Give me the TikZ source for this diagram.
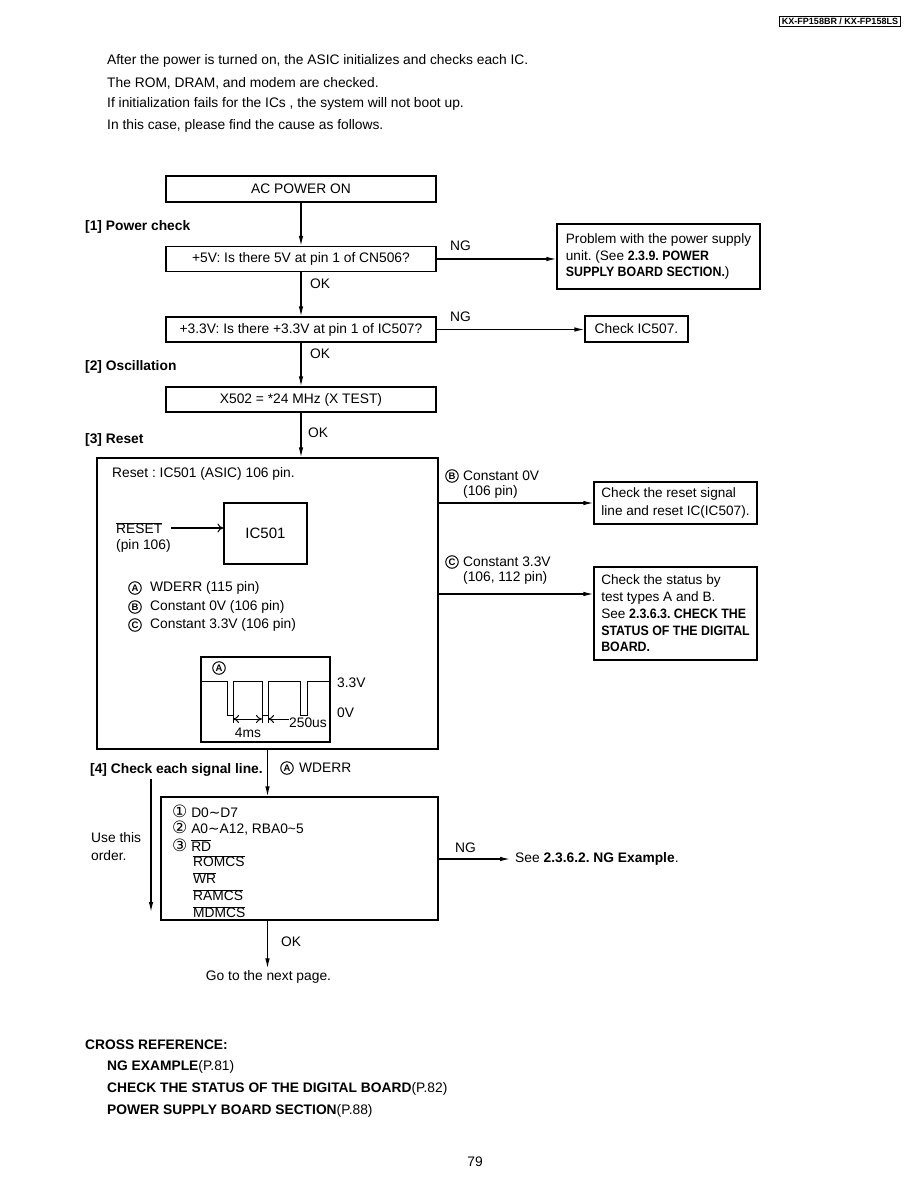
\documentclass[tikz,border=0pt]{standalone}
\usepackage{fontspec}
\setmainfont{Liberation Sans}
\newfontfamily\sym{DejaVu Sans}
\newfontfamily\bcond{Liberation Sans}[FakeStretch=0.91]
\usetikzlibrary{arrows.meta}
\newcommand\ovl[1]{$\overline{\hbox{#1}}$}
\newcommand\bx[1]{{\bcond\bfseries #1}}
\newcommand\cnum[1]{{\sym\fontsize{17}{17}\selectfont #1}}
\frenchspacing
\begin{document}
\begin{tikzpicture}[x=1pt,y=-1pt,
  font=\fontsize{13.8}{16.5}\selectfont,
  box/.style={draw, line width=1.2pt, inner sep=0},
  tbox/.style={draw, line width=1.2pt, align=left, inner xsep=6pt, inner ysep=3pt},
  txt/.style={anchor=west, inner sep=0},
  circ/.style={circle, draw, line width=1pt, inner sep=0, minimum size=12.5pt, font=\bfseries\fontsize{9.5}{10}\selectfont},
  arr/.style={line width=1.2pt, -{Latex[length=10pt,width=4.5pt]}},
  thin/.style={line width=1pt},
  open/.style={-{To[length=6pt,width=9pt,line width=1pt]}},
  bold/.style={font=\bfseries\fontsize{13.8}{16}\selectfont}]
\useasboundingbox (0,0) rectangle (918,1188);

% header
\node[draw, line width=0.9pt, inner xsep=2.5pt, inner ysep=1.5pt, font=\bfseries\fontsize{9}{10}\selectfont] (hdr) at (840,21.5) {KX-FP158BR / KX-FP158LS};

% intro
\node[txt] (i1) at (107,61) {After the power is turned on, the ASIC initializes and checks each IC.};
\node[txt] (i2) at (107,83) {The ROM, DRAM, and modem are checked.};
\node[txt] (i3) at (107,104) {If initialization fails for the ICs , the system will not boot up.};
\node[txt] (i4) at (107,126) {In this case, please find the cause as follows.};

% main column
\node[box, minimum width=270, minimum height=26] (ac) at (301,189) {AC POWER ON};
\node[txt, bold] (l1) at (85,227) {[1] Power check};
\node[box, minimum width=270, minimum height=25] (v5) at (301,259) {+5V: Is there 5V at pin 1 of CN506?};
\node[txt] (ok1) at (310,284) {OK};
\node[box, minimum width=270, minimum height=25] (v33) at (301,329.5) {+3.3V: Is there +3.3V at pin 1 of IC507?};
\node[txt] (ok2) at (310,354) {OK};
\node[txt, bold] (l2) at (85,367) {[2] Oscillation};
\node[box, minimum width=270, minimum height=25] (osc) at (301,399.5) {X502 = *24 MHz (X TEST)};
\node[txt] (ok3) at (308,433) {OK};
\node[txt, bold] (l3) at (85,440) {[3] Reset};

\draw[arr] (ac) -- (v5);
\draw[arr] (v5) -- (v33);
\draw[arr] (v33) -- (osc);

% right branches of power check
\node[tbox, minimum width=203, minimum height=65, font=\fontsize{13.6}{16.5}\selectfont] (psu) at (658.5,256.5) {Problem with the power supply\\unit. (See \bx{2.3.9. POWER}\\\bx{SUPPLY BOARD SECTION.})};
\node[box, minimum width=103, minimum height=26] (c507) at (636.5,329) {Check IC507.};
\node[txt] (ng1) at (450,246) {NG};
\node[txt] (ng2) at (450,317) {NG};
\draw[arr] (v5.east) -- (v5.east -| psu.west);
\draw[arr] (v33.east) -- (v33.east -| c507.west);

% reset box
\node[box, minimum width=341, minimum height=291] (rst) at (267.5,603.5) {};
\draw[arr] (osc.south) -- (osc.south |- rst.north);
\node[txt] (rsth) at (112,474) {Reset : IC501 (ASIC) 106 pin.};
\node[box, minimum width=83, minimum height=61, font=\fontsize{15}{16}\selectfont] (ic) at (265.5,533.5) {IC501};
\node[txt] (rsttxt) at (116,528) {\ovl{RESET}};
\node[txt] (pin) at (116,546) {(pin 106)};
\draw[line width=1.2pt, open] ([xshift=9pt]rsttxt.east) -- (rsttxt.east -| ic.west);
\node[circ] (ca1) at (135,588) {A};
\node[txt] (la) at (150,588) {WDERR (115 pin)};
\node[circ] (cb1) at (135,607) {B};
\node[txt] (lb) at (150,607) {Constant 0V (106 pin)};
\node[circ] (cc1) at (135,625) {C};
\node[txt] (lc) at (150,625) {Constant 3.3V (106 pin)};

% waveform
\node[box, minimum width=129, minimum height=85] (wave) at (265.5,699.5) {};
\node[circ] (wa) at (219,668) {A};
\draw[thin] (201,681) -- (227,681) -- (227,715) -- (233,715) -- (233,681) -- (262,681) -- (262,715) -- (268,715) -- (268,681) -- (300,681) -- (300,715) -- (307,715) -- (307,681) -- (330,681);
\draw[thin] (233,715) -- (233,723) (262,715) -- (262,723) (268,715) -- (268,723);
\draw[thin, {To[length=6pt,width=8pt]}-{To[length=6pt,width=8pt]}] (233,719) -- (262,719);
\draw[thin, {To[length=6pt,width=8pt]}-] (268,719) -- (289,719);
\node[txt] (t250) at (289,723) {250us};
\node[inner sep=0] (t4) at (248,733) {4ms};
\node[txt] (t33) at (337,683) {3.3V};
\node[txt] (t0) at (337,713) {0V};

% right branches of reset
\node[circ] (cb2) at (452,476) {B};
\node[txt] (bl1) at (463,476) {Constant 0V};
\node[txt] (bl2) at (463,492) {(106 pin)};
\node[tbox, minimum width=163, minimum height=42, font=\fontsize{13.6}{18}\selectfont] (chk) at (675.5,503) {Check the reset signal\\line and reset IC(IC507).};
\draw[arr] (rst.east |- chk.west) -- (chk.west);
\node[circ] (cc2) at (452,562) {C};
\node[txt] (cl1) at (463,562) {Constant 3.3V};
\node[txt] (cl2) at (463,578) {(106, 112 pin)};
\node[tbox, minimum width=163, minimum height=93, font=\fontsize{13.6}{16.8}\selectfont] (stat) at (675.5,613.5) {Check the status by\\test types A and B.\\See \bx{2.3.6.3. CHECK THE}\\\bx{STATUS OF THE DIGITAL}\\\bx{BOARD.}};
\coordinate (c3) at (438,594);
\draw[arr] (c3) -- (c3 -| stat.west);

% signal lines
\node[txt, bold] (l4) at (90,770) {[4] Check each signal line.};
\node[circ] (ca2) at (287,768) {A};
\node[txt] (wd) at (299,768) {WDERR};
\node[box, minimum width=277, minimum height=123] (sig) at (299.5,858.5) {};
\draw[arr] (rst.south) -- (rst.south |- sig.north);
\node[txt] (s1) at (172,811) {\cnum{①} D0{\sym ∼}D7};
\node[txt] (s2) at (172,828) {\cnum{②} A0{\sym ∼}A12, RBA0\textasciitilde 5};
\node[txt] (s3) at (172,845) {\cnum{③} \ovl{RD}};
\node[txt] (s4) at (193,861) {\ovl{ROMCS}};
\node[txt] (s5) at (193,878) {\ovl{WR}};
\node[txt] (s6) at (193,895) {\ovl{RAMCS}};
\node[txt] (s7) at (193,912) {\ovl{MDMCS}};
\coordinate (o1) at (151,779);
\coordinate (o2) at (151,912);
\draw[arr] (o1) -- (o2);
\node[txt] (ut1) at (91,838) {Use this};
\node[txt] (ut2) at (91,856) {order.};
\node[txt] (seeng) at (515,859) {See \textbf{2.3.6.2. NG Example}.};
\draw[arr] (sig.east |- seeng.west) -- ([xshift=-5pt]seeng.west);
\node[txt] (ng3) at (455,848) {NG};
\node[inner sep=2pt] (next) at (268.5,977) {Go to the next page.};
\draw[arr] (rst.south |- sig.south) -- (rst.south |- next.north);
\node[txt] (ok4) at (281,942) {OK};

% cross reference
\node[txt, bold] (cr) at (85,1045) {CROSS REFERENCE:};
\node[txt] (cr1) at (107,1067) {\textbf{NG EXAMPLE}(P.81)};
\node[txt] (cr2) at (107,1089) {\textbf{CHECK THE STATUS OF THE DIGITAL BOARD}(P.82)};
\node[txt] (cr3) at (107,1111) {\textbf{POWER SUPPLY BOARD SECTION}(P.88)};
\node[inner sep=0] (pg) at (475,1162) {79};
\end{tikzpicture}
\end{document}
